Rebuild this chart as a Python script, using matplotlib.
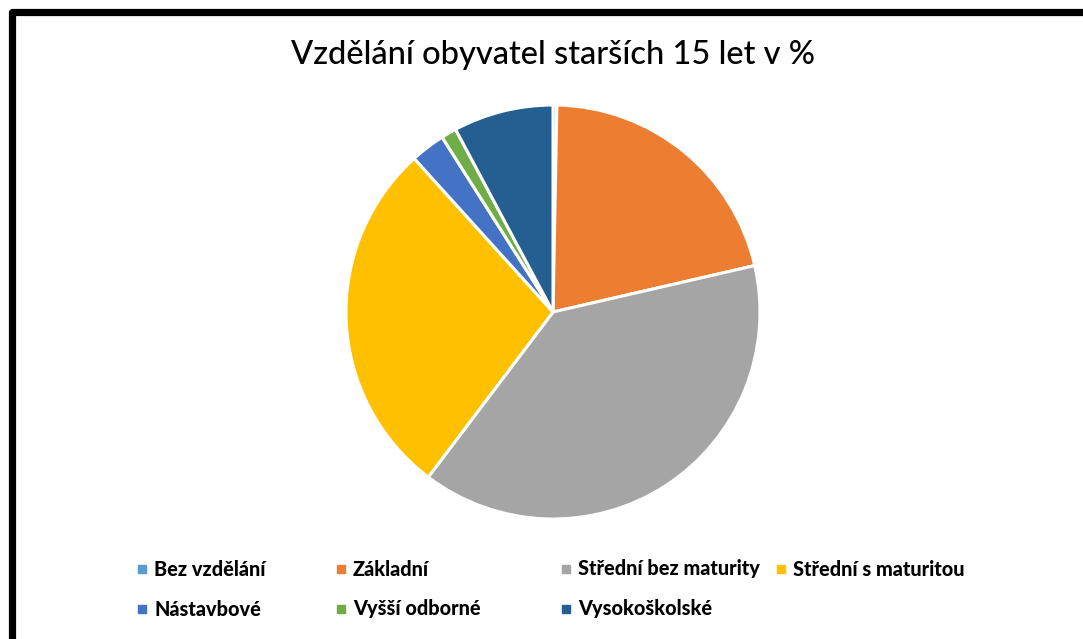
import matplotlib
matplotlib.use("Agg")
import matplotlib.pyplot as plt
from matplotlib.lines import Line2D
from matplotlib.patches import Rectangle

# data (percent)
labels = ["Bez vzdělání", "Základní", "Střední bez maturity", "Střední s maturitou",
          "Nástavbové", "Vyšší odborné", "Vysokoškolské"]
values = [0.3, 21.1, 38.9, 28.0, 2.7, 1.2, 7.8]
colors = ["#5B9BD5", "#ED7D31", "#A5A5A5", "#FFC000", "#4472C4", "#70AD47", "#255E91"]

W, H = 1083, 639
fig = plt.figure(figsize=(W / 100, H / 100), dpi=100)
fig.patch.set_facecolor("white")

def fx(px):
    return px / W

def fy(py):
    return 1 - py / H

# thick black frame (clipped by the image on right/bottom)
frame = Line2D([fx(11.5), fx(11.5), fx(1100)], [fy(700), fy(11.5), fy(11.5)],
               transform=fig.transFigure, color="black", lw=5.2,
               solid_joinstyle="round", solid_capstyle="butt")
fig.add_artist(frame)

fig.text(fx(553), fy(55), "Vzdělání obyvatel starších 15 let v %",
         ha="center", va="center", fontsize=23.5, family="Lato", weight="medium",
         color="black")

# pie
cx, cy, r = 553, 312, 207
ax = fig.add_axes([fx(cx - r), fy(cy + r), 2 * r / W, 2 * r / H])
ax.pie(values, colors=colors, startangle=90, counterclock=False, radius=1,
       wedgeprops=dict(edgecolor="white", linewidth=2.2))
ax.set_xlim(-1, 1)
ax.set_ylim(-1, 1)
ax.axis("off")

# legend laid out like the original
col_x = [138, 337, 562, 777]
row_y = [569, 609]
for i, (lab, col) in enumerate(zip(labels, colors)):
    row, c = divmod(i, 4)
    x, y = col_x[c], row_y[row]
    fig.add_artist(Rectangle((fx(x), fy(y + 4)), 8 / W, 8 / H,
                             transform=fig.transFigure, color=col))
    fig.text(fx(x + 16), fy(y), lab, ha="left", va="center", fontsize=14.3,
             family="Lato", weight="black", color="black")

fig.savefig("out.png", dpi=100)
